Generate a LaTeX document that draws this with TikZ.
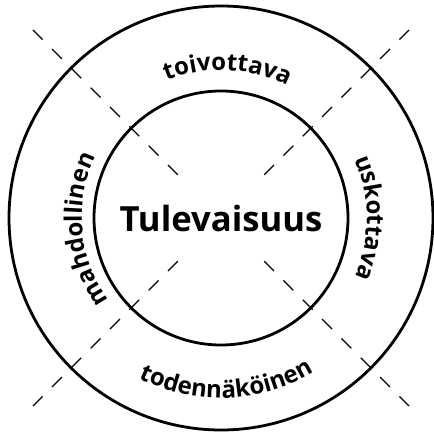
\documentclass[tikz,border=0pt]{standalone}
\usepackage{fontspec}
\setmainfont{Open Sans}
\usetikzlibrary{decorations.text}
\def\ringtext[#1](#2:#3:#4)#5{\path[decorate,decoration={text along path,text align=center,text={|\bfseries\fontsize{18}{22}\selectfont|#5}}] (#2:#4) arc[start angle=#2,end angle=#3,radius=#4];}

\begin{document}
\begin{tikzpicture}[x=0.75pt,y=0.75pt]
		%%%%% START %%%%%
		
		\useasboundingbox (-221, -221) rectangle (213, 218);
		
		\draw[line width=2.1pt] (0, 0) circle (212);
		\draw[line width=2.1pt] (0, 0) circle (127);
		
		\foreach \a in {45, 135, 225, 315}
			\draw[line width=0.8pt, dash pattern=on 10.5pt off 10pt] (\a:61) -- (\a:266);
		
		\node[font=\bfseries\fontsize{26}{30}\selectfont] (future) at (0, 0) {Tulevaisuus};
		
		\ringtext[](175:0:148){toivottava}
		\ringtext[](60:-60:146){uskottava}
		\ringtext[](184:360:180){todennäköinen}
		\ringtext[](245:125:139){mahdollinen}
		
		%%%%% END %%%%%
	\end{tikzpicture}
\end{document}
